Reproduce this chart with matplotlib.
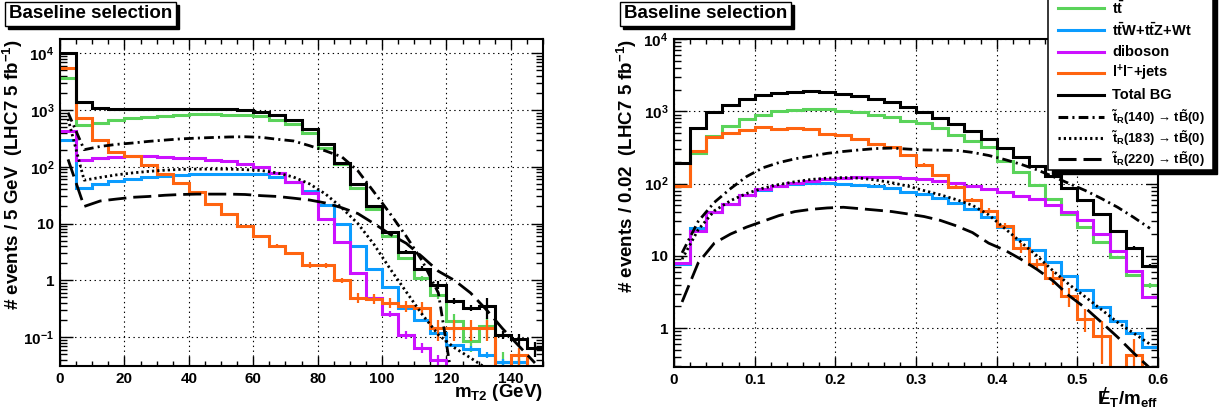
"""
Baseline selection: m_T2 and MET/m_eff distributions (LHC7, 5 fb^-1),
background histograms plus three stop signal benchmarks.
Writes out.png.
"""
import numpy as np
import matplotlib
matplotlib.use("Agg")
import matplotlib.pyplot as plt
from matplotlib.lines import Line2D
from matplotlib.patches import Rectangle
from matplotlib.ticker import FixedLocator, MultipleLocator, LogLocator, NullFormatter

# --------------------------------------------------------------------------
# Data
# --------------------------------------------------------------------------
MT2_EDGES = np.arange(0, 155, 5)

mt2_tot = [10000, 1400, 1080, 1040, 1040, 1040, 1050, 1060, 1060, 1060,
           1040, 1010, 940, 820, 660, 455, 250, 118, 50, 20,
           7.1, 3.2, 1.6, 0.84, 0.44, 0.33, 0.35, 0.11, 0.093, 0.064]
mt2_tt = [3700, 540, 600, 665, 710, 760, 800, 820, 840, 850,
          830, 810, 775, 680, 560, 400, 215, 110, 43, 18,
          6.0, 2.5, 1.1, 0.56, 0.19, 0.085, 0.155, 0.036, 0.036, 0]
mt2_ttv = [295, 43, 50, 57, 62, 66, 70, 72, 74, 75,
           76, 76, 75, 66, 53, 38, 21, 10, 4.0, 1.6,
           0.76, 0.32, 0.20, 0.118, 0.072, 0.063, 0.048, 0.036, 0.036, 0]
mt2_vv = [430, 132, 142, 150, 156, 156, 150, 145, 140, 133,
          126, 113, 100, 77, 53, 34, 12, 4.8, 1.35, 0.49,
          0.26, 0.11, 0.065, 0.04, 0, 0, 0, 0, 0, 0]
mt2_ll = [5400, 720, 300, 185, 152, 108, 75, 52, 36, 22,
          15, 9.1, 6.0, 4.1, 3.0, 1.85, 1.85, 1.0, 0.49, 0.47,
          0.40, 0.35, 0.33, 0.145, 0.145, 0.145, 0.145, 0, 0.048, 0.03]

# relative statistical errors per bin (only the tails show visible bars)
mt2_tot_err = [0] * 19 + [0.03, 0.05, 0.08, 0.1, 0.15, 0.12, 0.12, 0.4, 0.15, 0.22, 0.3]
mt2_tt_err = [0] * 21 + [0.05, 0.1, 0.15, 0.35, 0.35, 0.4, 0.5, 0.5, 0]
mt2_ttv_err = [0] * 25 + [0.1, 0.12, 0.15, 0.15, 0]
mt2_vv_err = [0] * 19 + [0.1, 0.12, 0.15, 0.2, 0.2, 0, 0, 0, 0, 0, 0]
mt2_ll_err = [0] * 12 + [0.04, 0.05, 0.05, 0.12, 0.1, 0.12, 0.2, 0.2,
                         0.2, 0.22, 0.25, 0.4, 0.4, 0.4, 0.4, 0, 0.35, 0]

# signal curves, sampled at bin centres
mt2_sig140 = [900, 200, 228, 248, 262, 280, 295, 310, 320, 328,
              335, 338, 330, 305, 285, 235, 190, 150, 85, 36,
              15, 6.0, 2.2, 0.6, 0.01]
mt2_sig183 = [700, 58, 65, 72, 78, 83, 87, 90, 91, 91,
              91, 89, 86, 78, 66, 50, 33, 19, 10, 4.3,
              1.6, 0.63, 0.25, 0.11, 0.065, 0.043, 0.028, 0.015]
mt2_sig220 = [135, 20, 25, 27, 29, 30, 31.5, 32.5, 33, 33,
              33, 32.5, 31, 30, 28, 26, 23, 19, 15, 10,
              6.5, 4.5, 2.6, 1.45, 1.0, 0.6, 0.3, 0.14, 0.07, 0.035]

MET_EDGES = np.linspace(0.0, 0.6, 31)

met_tot = [192, 590, 970, 1235, 1480, 1700, 1790, 1860, 1880, 1830,
           1730, 1610, 1460, 1330, 1160, 980, 810, 670, 530, 410,
           313, 232, 173, 128, 88, 60, 38, 22, 13, 7.3]
met_tt = [92, 265, 450, 620, 780, 900, 1000, 1050, 1070, 1060,
          1020, 970, 900, 830, 730, 680, 595, 475, 390, 318,
          208, 144, 97, 62, 38, 25, 15.5, 9.6, 5.4, 3.9]
met_ttv = [7.6, 24, 40, 53, 69, 81, 92, 100, 102, 102,
           100, 97, 93, 88, 77, 72, 63, 54, 45, 34,
           25, 17, 12, 8.1, 5.3, 3.4, 1.95, 1.27, 0.87, 0.54]
met_vv = [7.9, 22, 40, 53, 69, 83, 93, 102, 109, 115,
          118, 123, 123, 123, 118, 116, 110, 101, 92, 83,
          76, 68, 61, 50, 40, 31, 20, 11.7, 6.2, 2.7]
met_ll = [92, 280, 440, 500, 555, 615, 570, 590, 560, 490,
          475, 415, 355, 325, 250, 183, 130, 89, 59, 42,
          26, 13, 7.7, 5.0, 2.8, 1.35, 0.79, 0, 0.42, 0]

met_tot_err = [0] * 27 + [0.03, 0.05, 0.06]
met_tt_err = [0] * 28 + [0.05, 0.07]
met_ttv_err = [0] * 29 + [0.06]
met_vv_err = [0] * 29 + [0.03]
met_ll_err = [0] * 15 + [0.05, 0.05, 0.06, 0.07, 0.08, 0.1, 0.15, 0.18,
                         0.22, 0.3, 0.35, 0.6, 0, 0.7, 0]

met_sig140 = [11, 30, 55, 85, 125, 165, 195, 220, 240, 262,
              278, 292, 305, 310, 300, 292, 290, 288, 270, 245,
              215, 185, 155, 125, 100, 80, 62, 47, 34, 24]
met_sig183 = [9, 23, 42, 58, 73, 86, 97, 106, 114, 119,
              121, 119, 112, 103, 92, 80, 70, 60, 50, 37,
              24, 15.5, 10, 6.2, 4.0, 2.7, 1.8, 1.2, 0.85, 0.6]
met_sig220 = [2.3, 8, 15, 20, 25, 30, 36, 41, 44, 46,
              47, 45, 43, 41, 38, 35, 31, 26, 21, 15,
              12, 9, 6.5, 4.5, 2.8, 1.9, 1.2, 0.75, 0.45, 0.28]

LEGEND_LABELS = [
    r"t$\bar{t}$",
    r"t$\bar{t}$W+t$\bar{t}$Z+Wt",
    "diboson",
    r"l$^{+}$l$^{-}$+jets",
    "Total BG",
    "$\\tilde{t}_{R}$(140) \u2192 t$\\tilde{B}$(0)",
    "$\\tilde{t}_{R}$(183) \u2192 t$\\tilde{B}$(0)",
    "$\\tilde{t}_{R}$(220) \u2192 t$\\tilde{B}$(0)",
]

# --------------------------------------------------------------------------
# Style
# --------------------------------------------------------------------------
W, H = 1219, 408
C_TT = "#5ad35a"
C_TTV = "#0b9cff"
C_VV = "#cc11ff"
C_LL = "#ff6410"
LS_140 = (0, (7, 3, 1.5, 3))
LS_183 = (0, (1.6, 2.2))
LS_220 = (0, (13, 5))

plt.rcParams["font.family"] = ["Liberation Sans", "DejaVu Sans"]
plt.rcParams["font.weight"] = "bold"
plt.rcParams["axes.labelweight"] = "bold"
plt.rcParams["mathtext.fontset"] = "custom"
plt.rcParams["mathtext.rm"] = "Liberation Sans:bold"
plt.rcParams["mathtext.it"] = "Liberation Sans:bold"
plt.rcParams["mathtext.bf"] = "Liberation Sans:bold"
plt.rcParams["mathtext.default"] = "rm"
plt.rcParams["lines.scale_dashes"] = False


def _draw_panel(ax, edges, bkg, errs, sigs):
    centers = 0.5 * (edges[1:] + edges[:-1])
    for vals, err, color in zip(bkg, errs, [C_TT, C_TTV, C_VV, C_LL, "black"]):
        vals = np.asarray(vals, dtype=float)
        ax.stairs(vals, edges, baseline=None, color=color, lw=2.2,
                  zorder=3 if color == "black" else 2)
        err = np.asarray(err, dtype=float)
        m = err > 0
        if m.any():
            ax.errorbar(centers[m], vals[m], yerr=vals[m] * err[m], fmt="none",
                        ecolor=color, elinewidth=1.6, capsize=0, zorder=2)
    for vals, ls in zip(sigs, [LS_140, LS_183, LS_220]):
        ax.plot(centers[:len(vals)], vals, color="black", lw=2.0, ls=ls,
                zorder=4)

    ax.set_yscale("log")
    ax.set_xlim(edges[0], edges[-1])
    ax.yaxis.set_minor_locator(LogLocator(base=10, subs=np.arange(2, 10)))
    ax.yaxis.set_minor_formatter(NullFormatter())
    ax.tick_params(which="both", direction="in", top=True, right=True,
                   labelsize=11)
    ax.tick_params(axis="x", which="major", length=7.2, width=1.0, pad=4)
    ax.tick_params(axis="x", which="minor", length=3.6, width=1.0)
    ax.tick_params(axis="y", which="major", length=9.0, width=1.0, pad=4)
    ax.tick_params(axis="y", which="minor", length=5.0, width=1.0)
    ax.grid(True, which="major", color="black", ls=(0, (1, 2.5)), lw=0.8)
    for sp in ax.spines.values():
        sp.set_linewidth(1.5)


def _title_box(fig, x, y, text):
    # ROOT-like pave with a solid black shadow
    dx, dy = 3.0 / W, 3.0 / H
    kw = dict(fontsize=13.5, fontweight="bold", va="center", ha="left")
    fig.text(x + dx, y - dy, text, color="black",
             bbox=dict(boxstyle="square,pad=0.2", fc="black", ec="black"), **kw)
    fig.text(x, y, text, color="black",
             bbox=dict(boxstyle="square,pad=0.2", fc="white", ec="black", lw=1.0),
             **kw)


def _legend(fig):
    # drawn by hand so that the rows keep ROOT's even spacing
    def fx(px):
        return px / W

    def fy(py):
        return 1 - py / H

    left, right, bottom, top = 1048, 1213, 170, -10
    fig.patches.append(Rectangle((fx(left + 4), fy(bottom + 4)),
                                 (right - left) / W, (bottom - top) / H,
                                 transform=fig.transFigure, fc="black",
                                 ec="black", zorder=5))
    fig.patches.append(Rectangle((fx(left), fy(bottom)),
                                 (right - left) / W, (bottom - top) / H,
                                 transform=fig.transFigure, fc="white",
                                 ec="black", lw=1.1, zorder=5.1))
    rows = [8, 30, 52, 73, 95, 117, 138, 159]
    styles = [(C_TT, "-"), (C_TTV, "-"), (C_VV, "-"), (C_LL, "-"),
              ("black", "-"), ("black", LS_140), ("black", LS_183),
              ("black", LS_220)]
    for i, (y, (color, ls), text) in enumerate(zip(rows, styles, LEGEND_LABELS)):
        fig.add_artist(Line2D([fx(1058), fx(1104)], [fy(y), fy(y)],
                              transform=fig.transFigure, color=color,
                              ls=ls, lw=2.2, zorder=5.2))
        fig.text(fx(1112), fy(y), text, fontsize=10.5 if i < 5 else 9.4,
                 fontweight="bold", ha="left", va="center", zorder=5.3)


def main():
    fig = plt.figure(figsize=(W / 100, H / 100), dpi=100)

    # ---- left: m_T2 ----
    ax1 = fig.add_axes([60 / W, 1 - 366 / H, 483 / W, 327 / H])
    _draw_panel(ax1, MT2_EDGES,
                [mt2_tt, mt2_ttv, mt2_vv, mt2_ll, mt2_tot],
                [mt2_tt_err, mt2_ttv_err, mt2_vv_err, mt2_ll_err, mt2_tot_err],
                [mt2_sig140, mt2_sig183, mt2_sig220])
    ax1.set_ylim(0.031, 17800)
    ax1.xaxis.set_major_locator(MultipleLocator(20))
    ax1.xaxis.set_minor_locator(MultipleLocator(5))
    ax1.yaxis.set_major_locator(FixedLocator([0.1, 1, 10, 100, 1000, 10000]))
    ax1.set_yticklabels(["$10^{-1}$", "1", "10", "$10^{2}$", "$10^{3}$", "$10^{4}$"])
    ax1.set_xlabel("m$_{T2}$ (GeV)", fontsize=13.5, loc="right")
    ax1.xaxis.set_label_coords(1.0, -0.050)
    ax1.set_ylabel("# events / 5 GeV  (LHC7 5 fb$^{-1}$)", fontsize=13.5, loc="top")
    ax1.yaxis.set_label_coords(-0.072, 1.0)

    # ---- right: MET / m_eff ----
    ax2 = fig.add_axes([674 / W, 1 - 367 / H, 484 / W, 328 / H])
    _draw_panel(ax2, MET_EDGES,
                [met_tt, met_ttv, met_vv, met_ll, met_tot],
                [met_tt_err, met_ttv_err, met_vv_err, met_ll_err, met_tot_err],
                [met_sig140, met_sig183, met_sig220])
    ax2.set_ylim(0.29, 10000)
    ax2.xaxis.set_major_locator(MultipleLocator(0.1))
    ax2.xaxis.set_minor_locator(MultipleLocator(0.02))
    ax2.xaxis.set_major_formatter(lambda v, pos: f"{v:g}")
    ax2.yaxis.set_major_locator(FixedLocator([1, 10, 100, 1000, 10000]))
    ax2.set_yticklabels(["1", "10", "$10^{2}$", "$10^{3}$", "$10^{4}$"])
    lab = ax2.set_xlabel("E$_{T}$/m$_{eff}$", fontsize=13.5, loc="right")
    ax2.xaxis.set_label_coords(1.0, -0.066)
    ax2.annotate("/", xy=(0.12, 0.62), xycoords=lab, ha="center", va="center",
                 fontsize=15, fontweight="normal")
    ax2.set_ylabel("# events / 0.02  (LHC7 5 fb$^{-1}$)", fontsize=13.5, loc="top")
    ax2.yaxis.set_label_coords(-0.072, 1.0)

    _title_box(fig, 9 / W, 1 - 14 / H, "Baseline selection")
    _title_box(fig, 624 / W, 1 - 14 / H, "Baseline selection")
    _legend(fig)

    fig.savefig("out.png", dpi=100)
    plt.close(fig)


if __name__ == "__main__":
    main()
